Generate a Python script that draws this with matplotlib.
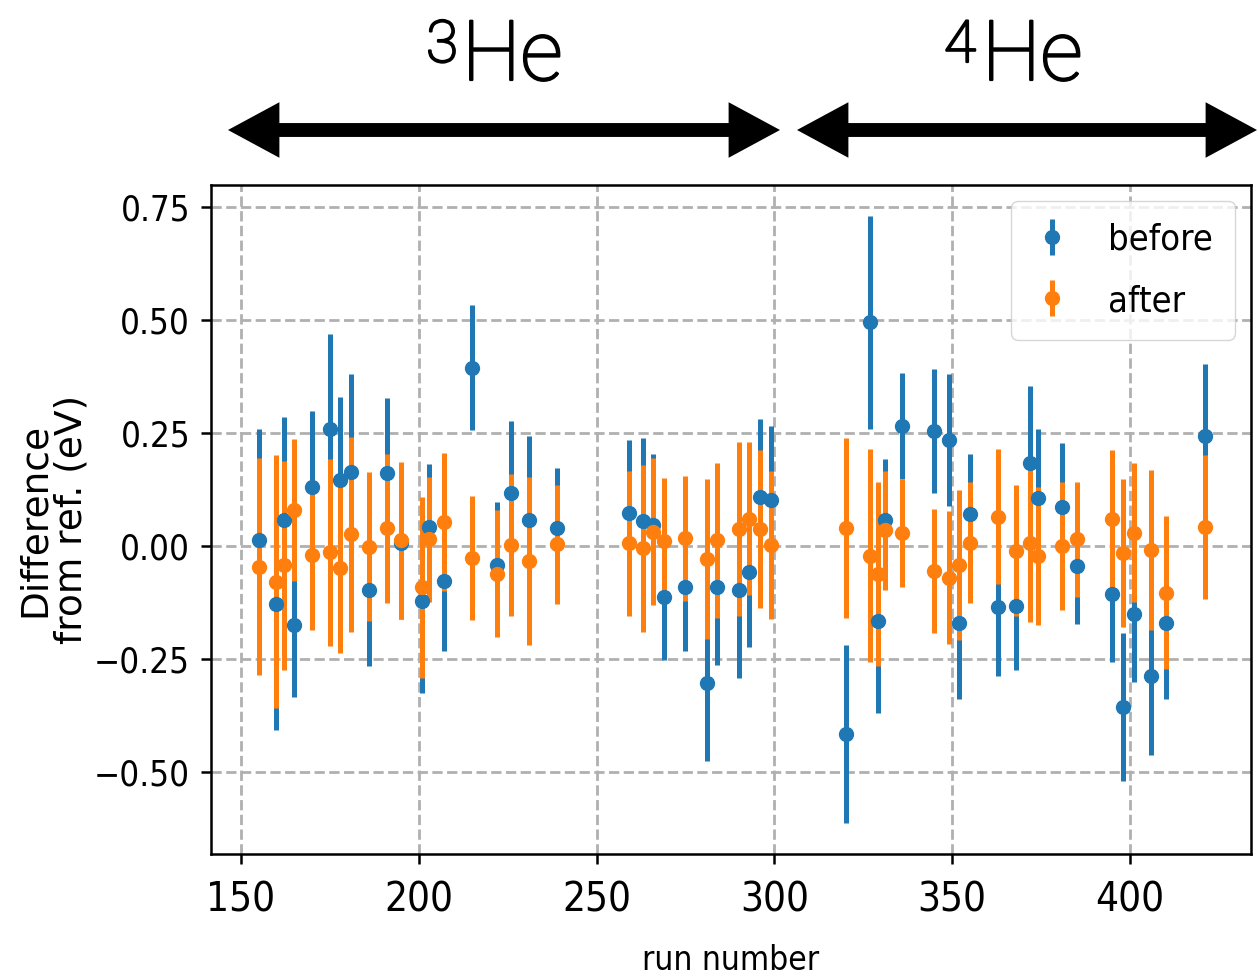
import numpy as np
import matplotlib
matplotlib.use("Agg")
import matplotlib.pyplot as plt
import matplotlib.patheffects as pe
from matplotlib.patches import FancyArrowPatch

# run numbers et écarts à la référence (eV)
runs = [155, 160, 162, 165, 170, 175, 178, 181, 186, 191, 195, 201, 203, 207, 215,
        222, 226, 231, 239, 259, 263, 266, 269, 275, 281, 284, 290, 293, 296, 299,
        320, 327, 329, 331, 336, 345, 349, 352, 355, 363, 368, 372, 374, 381, 385,
        395, 398, 401, 406, 410, 421]

before = [0.013, -0.127, 0.058, -0.175, 0.131, 0.260, 0.146, 0.164, -0.097, 0.162,
          0.006, -0.122, 0.043, -0.077, 0.395, -0.042, 0.117, 0.059, 0.041, 0.074,
          0.055, 0.046, -0.112, -0.091, -0.302, -0.091, -0.097, -0.057, 0.109, 0.102,
          -0.415, 0.495, -0.165, 0.059, 0.265, 0.255, 0.235, -0.171, 0.071, -0.135,
          -0.132, 0.184, 0.107, 0.087, -0.044, -0.105, -0.356, -0.149, -0.288, -0.170,
          0.244]
before_err = [0.247, 0.280, 0.227, 0.158, 0.168, 0.210, 0.184, 0.217, 0.168, 0.166,
              0.168, 0.203, 0.138, 0.155, 0.139, 0.139, 0.160, 0.185, 0.132, 0.161,
              0.185, 0.157, 0.139, 0.141, 0.174, 0.172, 0.194, 0.167, 0.173, 0.164,
              0.197, 0.235, 0.203, 0.133, 0.117, 0.138, 0.146, 0.167, 0.132, 0.152,
              0.143, 0.171, 0.152, 0.142, 0.129, 0.152, 0.164, 0.151, 0.175, 0.169,
              0.160]

after = [-0.046, -0.079, -0.042, 0.080, -0.020, -0.014, -0.049, 0.026, -0.001, 0.040,
         0.013, -0.091, 0.015, 0.054, -0.026, -0.061, 0.002, -0.033, 0.004, 0.006,
         -0.005, 0.032, 0.012, 0.017, -0.029, 0.013, 0.038, 0.061, 0.038, 0.002,
         0.041, -0.021, -0.061, 0.035, 0.029, -0.055, -0.070, -0.042, 0.008, 0.065,
         -0.010, 0.008, -0.021, 0.000, 0.015, 0.061, -0.015, 0.030, -0.009, -0.103,
         0.043]
after_err = [0.240, 0.280, 0.231, 0.158, 0.166, 0.207, 0.188, 0.216, 0.164, 0.165,
             0.174, 0.200, 0.138, 0.153, 0.137, 0.140, 0.157, 0.186, 0.132, 0.161,
             0.185, 0.162, 0.138, 0.138, 0.177, 0.172, 0.193, 0.170, 0.174, 0.164,
             0.199, 0.235, 0.203, 0.132, 0.119, 0.138, 0.147, 0.166, 0.133, 0.149,
             0.145, 0.176, 0.153, 0.142, 0.127, 0.151, 0.163, 0.153, 0.177, 0.169,
             0.159]

xticks = [150, 200, 250, 300, 350, 400]
yticks = [-0.50, -0.25, 0.00, 0.25, 0.50, 0.75]

plt.rcParams['font.family'] = ['DejaVu Sans']
plt.rcParams['font.stretch'] = 'condensed'

W, H = 1258, 976
fig = plt.figure(figsize=(W / 100, H / 100), dpi=100)
ax = fig.add_axes([211 / W, 1 - 854 / H, 1040 / W, 669 / H])

ax.errorbar(runs, before, yerr=before_err, fmt='o', color='C0', ms=10,
            elinewidth=3.6, capsize=0, label='before', zorder=3)
ax.errorbar(runs, after, yerr=after_err, fmt='o', color='C1', ms=10,
            elinewidth=3.6, capsize=0, label='after', zorder=3)

ax.set_xlim(141.6, 434.0)
ax.set_ylim(-0.681, 0.799)
ax.set_xticks(xticks)
ax.set_yticks(yticks)
ax.grid(True, linestyle='--', linewidth=2, color='#b0b0b0')
for s in ax.spines.values():
    s.set_linewidth(1.8)
ax.tick_params(axis='both', length=7, width=1.8)
ax.tick_params(axis='x', labelsize=29, pad=12)
ax.tick_params(axis='y', labelsize=25, pad=8)

ax.set_xlabel('run number', fontsize=24, labelpad=17)
ax.set_ylabel('Difference\nfrom ref. (eV)', fontsize=27, fontstretch='normal',
              labelpad=3, linespacing=1.05)

ax.legend(loc='upper right', fontsize=26, handlelength=1.1, handletextpad=1.0,
          labelspacing=0.75, borderaxespad=0.45, borderpad=0.6)

# flèches doubles 3He / 4He au-dessus du graphe
def double_arrow(x0, x1, y):
    xm = 0.5 * (x0 + x1)
    for xe in (x0, x1):
        a = FancyArrowPatch((xm / W, 1 - y / H), (xe / W, 1 - y / H),
                            transform=fig.transFigure,
                            arrowstyle='simple,head_length=37,head_width=40,tail_width=10',
                            mutation_scale=1, color='black', lw=0,
                            shrinkA=0, shrinkB=0)
        fig.patches.append(a)

double_arrow(228, 780, 130)
double_arrow(797, 1257, 130)

# étiquettes 3He / 4He : exposant + symbole (police fine, un peu épaissie)
epais = [pe.withStroke(linewidth=1.6, foreground='black')]
for iso, x_sup, x_he in [('3', 458, 462), ('4', 976, 982)]:
    fig.text(x_sup / W, 1 - 62 / H, iso, fontsize=42, family='Roboto',
             fontweight='light', fontstretch='normal', ha='right', va='baseline',
             path_effects=epais)
    fig.text(x_he / W, 1 - 80 / H, 'He', fontsize=60, family='Roboto',
             fontweight='light', fontstretch='normal', ha='left', va='baseline',
             path_effects=epais)

fig.savefig('out.png', dpi=100)
